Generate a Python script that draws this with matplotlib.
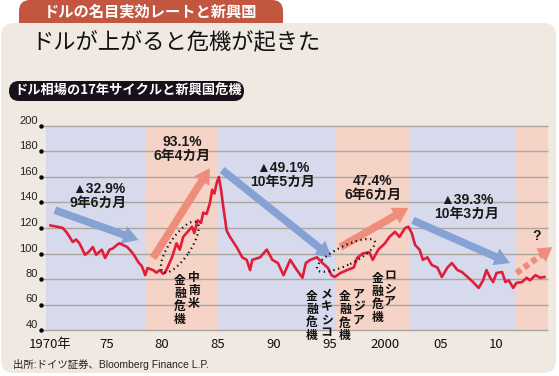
import numpy as np
import matplotlib
matplotlib.use("Agg")
import matplotlib.pyplot as plt
from matplotlib.patches import FancyBboxPatch, Ellipse
from matplotlib.transforms import IdentityTransform, ScaledTranslation

# --- data ---
years = [1970.0, 1970.6, 1971.1, 1971.5, 1972.0, 1972.3, 1972.6, 1973.1, 1973.4, 1973.8,
         1974.1, 1974.6, 1974.9, 1975.3, 1975.6, 1976.0, 1976.2, 1976.9, 1977.4, 1977.9,
         1978.2, 1978.5, 1978.7, 1979.2, 1979.5, 1979.8, 1980.1, 1980.3, 1980.5, 1980.9,
         1981.3, 1981.6, 1981.9, 1982.3, 1982.7, 1982.9, 1983.2, 1983.5, 1983.7, 1984.0,
         1984.3, 1984.5, 1984.7, 1984.9, 1985.1, 1985.3, 1985.5, 1985.8, 1986.1, 1986.4,
         1986.7, 1987.2, 1987.6, 1987.9, 1988.1, 1988.8, 1989.4, 1989.9, 1990.4, 1990.9,
         1991.5, 1992.1, 1992.6, 1992.9, 1993.3, 1993.9, 1994.4, 1994.9, 1995.2, 1995.5,
         1996.0, 1996.6, 1997.2, 1997.5, 1998.0, 1998.6, 1998.9, 1999.4, 2000.0, 2000.4,
         2000.9, 2001.3, 2001.8, 2002.1, 2002.4, 2002.7, 2003.1, 2003.4, 2003.8, 2004.2,
         2004.7, 2005.1, 2005.6, 2006.0, 2006.5, 2006.9, 2007.4, 2007.9, 2008.4, 2008.8,
         2009.1, 2009.4, 2009.7, 2010.0, 2010.5, 2010.8, 2011.1, 2011.5, 2011.8, 2012.3,
         2012.7, 2013.0, 2013.5, 2013.9, 2014.3]
dollar = [122, 121, 120, 116, 109, 111, 108, 99, 101, 105,
          99, 103, 96.5, 103, 104, 107, 108, 105, 100, 93,
          90, 83, 88.6, 87, 85, 87, 84, 85.5, 89, 97,
          108, 103, 113, 117, 121, 116, 126, 124, 132, 131,
          139.6, 150, 147, 155, 160, 150, 136.5, 118, 113, 109,
          105, 97, 95, 87, 95, 97, 103, 95, 92.5, 83,
          95, 87, 81, 92.5, 95, 97, 92.5, 88.6, 83, 81.6,
          84.7, 87, 89, 96.5, 100, 101, 95, 103, 108, 113,
          117, 113, 120, 121, 116, 106.7, 103, 95, 97, 91,
          89, 81.6, 89, 92.5, 87, 85.5, 81.6, 77.6, 73, 79,
          87, 81.6, 77.6, 84.7, 85.5, 77.6, 79, 73, 77, 77.6,
          81, 79, 83, 81, 81.6]

band_start = [1969.6, 1978.6, 1985.0, 1995.6, 2002.2, 2011.7]
band_end = [1978.6, 1985.0, 1995.6, 2002.2, 2011.7, 2014.62]
band_kind = ["down", "up", "down", "up", "down", "up"]

yticks = [40, 60, 80, 100, 120, 140, 160, 180, 200]
xticks = [1970, 1975, 1980, 1985, 1990, 1995, 2000, 2005, 2010]
xlabels = ["1970年", "75", "80", "85", "90", "95", "2000", "05", "10"]

# arrows: (start year, start value, end year, end value)
arrows = [
    (1970.4, 134, 1977.9, 110.6, "down"),
    (1979.2, 96.5, 1984.3, 167, "up"),
    (1985.4, 165.5, 1995.2, 97, "down"),
    (1996.0, 105, 2002.1, 135.7, "up"),
    (2002.5, 126, 2011.2, 92.5, "down"),
]
future_arrow = (2011.8, 84.7, 2015.0, 105)

cycle_text = ["▲32.9%\n9年6カ月", "93.1%\n6年4カ月", "▲49.1%\n10年5カ月",
              "47.4%\n6年6カ月", "▲39.3%\n10年3カ月"]
cycle_x = [1974.3, 1981.8, 1990.8, 1998.9, 2007.35]
cycle_y = [145, 182, 161.6, 151.4, 136.5]

# crisis labels: (country, x, x of 金融危機 column, top value)
crises = [
    ("中南米", 1982.85, 1981.6, 86.3),
    ("メキシコ", 1994.75, 1993.45, 73.7),
    ("アジア", 1997.65, 1996.4, 73.5),
    ("ロシア", 2000.45, 1999.3, 87.8),
]

C_BLUE_BAND = "#d6daec"
C_RED_BAND = "#f6d3c7"
C_LINE = "#e21d3a"
C_BLUE_ARR = "#86a2d4"
C_RED_ARR = "#ee8d7b"
C_PANEL = "#f0e9e2"
C_TAB = "#c3563f"
C_GRID = "#aca69f"

JP = ["Noto Sans CJK JP", "DejaVu Sans"]
LAT = ["Liberation Sans", "Noto Sans CJK JP", "DejaVu Sans"]

W, H = 559, 376
fig = plt.figure(figsize=(W / 100, H / 100), dpi=100)
fig.patch.set_facecolor("white")
ID = IdentityTransform()


def box(x0, y0, x1, y1, r, color, z):
    p = FancyBboxPatch((x0, H - y1), x1 - x0, y1 - y0,
                       boxstyle=f"round,pad=0,rounding_size={r}",
                       transform=ID, fc=color, ec="none", zorder=z)
    fig.patches.append(p)


# header tab, panel, subtitle pill
box(19, 0, 283, 40, 11, C_TAB, 0.2)
box(1, 23, 556, 373, 13, C_PANEL, 0.5)
box(9, 81, 244, 101, 10, "#16111a", 2)

fig.text(151, H - 12, "ドルの名目実効レートと新興国", transform=ID, ha="center", va="center",
         color="white", fontsize=11, fontweight="bold", family=JP, zorder=3)
fig.text(31, H - 43, "ドルが上がると危機が起きた", transform=ID, ha="left", va="center",
         color="#111111", fontsize=16, family=JP, zorder=3)
fig.text(128, H - 91, "ドル相場の17年サイクルと新興国危機", transform=ID, ha="center", va="center",
         color="white", fontsize=9.5, fontweight="bold", family=JP, zorder=3)
fig.text(13, H - 364, "出所:ドイツ証券、Bloomberg Finance L.P.", transform=ID, ha="left",
         va="center", color="#222222", fontsize=7.5, family=LAT, zorder=3)

# --- chart ---
ax = fig.add_axes([46 / W, (H - 330) / H, 502 / W, 204 / H])
ax.set_zorder(5)
ax.set_facecolor("none")
ax.set_xlim(1969.6, 2014.62)
ax.set_ylim(40, 200)
for s in ax.spines.values():
    s.set_visible(False)

for a, b, k in zip(band_start, band_end, band_kind):
    ax.axvspan(a, b, color=C_BLUE_BAND if k == "down" else C_RED_BAND, lw=0, zorder=0)

ax.hlines(yticks, -0.01, 1, transform=ax.get_yaxis_transform(), color=C_GRID,
          lw=1, zorder=1, clip_on=False)
ax.plot([-0.01] * len(yticks), yticks, "o", ms=2.2, color="black",
        transform=ax.get_yaxis_transform(), clip_on=False, zorder=3)

ax.set_yticks(yticks)
ax.set_yticklabels([str(v) for v in yticks], family=LAT, fontsize=8, color="#222222")
for lab in ax.get_yticklabels():
    lab.set_va("bottom")
ax.tick_params(axis="y", length=0, pad=6)
ax.set_xticks(xticks)
ax.set_xticklabels(xlabels, family=["Liberation Sans Narrow", "Noto Sans CJK JP"],
                   fontsize=9.5, color="#111111")
ax.tick_params(axis="x", length=0, pad=6)

# arrows
for x0, y0, x1, y1, k in arrows:
    ax.annotate("", xy=(x1, y1), xytext=(x0, y0),
                arrowprops=dict(arrowstyle="simple,head_length=11,head_width=13,tail_width=5.5",
                                mutation_scale=1, fc=C_BLUE_ARR if k == "down" else C_RED_ARR,
                                ec="none", shrinkA=0, shrinkB=0), zorder=2)

# dotted arrow to the future
fx0, fy0, fx1, fy1 = future_arrow
t = 0.72
mx, my = fx0 + (fx1 - fx0) * t, fy0 + (fy1 - fy0) * t
ax.plot([fx0, mx], [fy0, my], color=C_RED_ARR, lw=4.5, ls=(0, (0.9, 0.6)),
        solid_capstyle="butt", dash_capstyle="butt", clip_on=False, zorder=2)
ax.annotate("", xy=(fx1, fy1), xytext=(mx, my),
            arrowprops=dict(arrowstyle="simple,head_length=10,head_width=12,tail_width=0.1",
                            mutation_scale=1, fc=C_RED_ARR, ec="none", shrinkA=0, shrinkB=0),
            annotation_clip=False, zorder=2)

ax.plot(years, dollar, color=C_LINE, lw=1.9, zorder=4, solid_joinstyle="round")

# dotted ellipses (sizes in inches on screen)
for cx, cy, w, h, ang in [(1981.6, 105, 0.60, 0.21, 56), (1996.5, 98.5, 0.64, 0.19, 26)]:
    e = Ellipse((0, 0), w, h, angle=ang, fill=False, ec="#111111", lw=1.6, ls=(0, (0.6, 1.6)),
                transform=fig.dpi_scale_trans + ScaledTranslation(cx, cy, ax.transData), zorder=5)
    ax.add_patch(e)

for s, x, y in zip(cycle_text, cycle_x, cycle_y):
    ax.text(x, y, s, ha="center", va="center", fontsize=10, fontweight="bold",
            family=LAT, color="#1a1a1a", linespacing=1.0, zorder=6)
ax.text(2013.6, 113.7, "?", ha="center", va="center", fontsize=10, fontweight="bold",
        family=LAT, color="#1a1a1a", zorder=6)

for name, x1, x2, top in crises:
    ax.text(x1, top, "\n".join(name), ha="center", va="top", fontsize=8.5, fontweight="bold",
            family=JP, color="#111111", linespacing=1.0, zorder=6)
    ax.text(x2, top - 2.5, "\n".join("金融危機"), ha="center",
            va="top", fontsize=8.5, fontweight="bold", family=JP, color="#111111",
            linespacing=1.0, zorder=6)

fig.savefig("out.png", dpi=100)
